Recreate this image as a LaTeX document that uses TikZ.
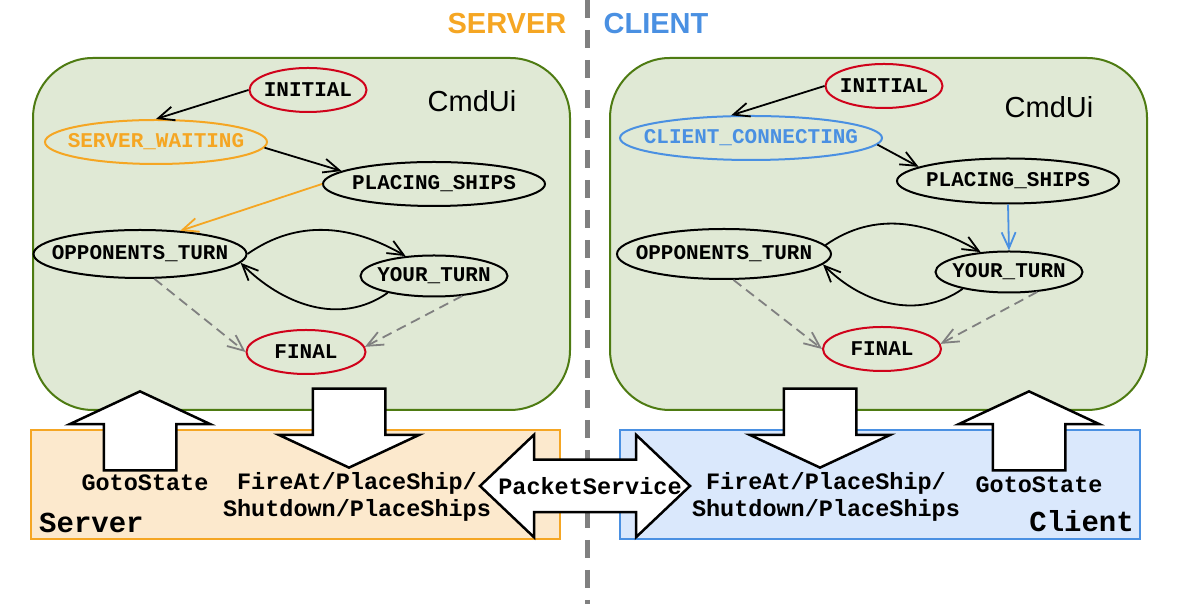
\documentclass[tikz,border=0pt]{standalone}
\usepackage{fontspec}
\setmainfont{Liberation Sans}
\setsansfont{Liberation Sans}
\setmonofont{Liberation Mono}
\usetikzlibrary{shapes.geometric, shapes.arrows, arrows.meta}

\definecolor{uifill}{HTML}{E0E9D5}
\definecolor{uiborder}{HTML}{4E7B12}
\definecolor{servorange}{HTML}{F5A623}
\definecolor{servfill}{HTML}{FCE9CD}
\definecolor{clientblue}{HTML}{4A90E2}
\definecolor{clientfill}{HTML}{DAE8FC}
\definecolor{pseudored}{HTML}{D0021B}
\definecolor{endgrey}{HTML}{808080}

\begin{document}
\begin{tikzpicture}
[
    x=1pt, y=1pt,
    >={Straight Barb[length=16pt, width=14pt]},
    ui/.style={draw=uiborder, fill=uifill, line width=2pt, rounded corners=60pt},
    state/.style={ellipse, draw, line width=2pt, inner xsep=-25pt, inner ysep=0pt, minimum height=44pt, font=\ttfamily\bfseries\fontsize{21}{25}\selectfont},
    pseudo/.style={state, draw=pseudored},
    trans/.style={line width=1.8pt},
    toend/.style={trans, draw=endgrey, dash pattern=on 10pt off 6pt},
    uparrow/.style={single arrow, draw, fill=white, line width=2.5pt, inner xsep=35pt, inner ysep=0pt, minimum height=79pt, minimum width=138pt, single arrow head extend=34pt, single arrow tip angle=130, shape border rotate=90, anchor=tip},
    downarrow/.style={uparrow, shape border rotate=270},
    dblarrow/.style={double arrow, draw, fill=white, line width=2.5pt, inner xsep=0pt, inner ysep=25pt, minimum height=210pt, minimum width=100pt, double arrow head extend=25pt, double arrow tip angle=87},
    call/.style={font=\ttfamily\bfseries\fontsize{23.5}{27}\selectfont, align=center, inner sep=0pt},
    side/.style={font=\ttfamily\bfseries\fontsize{29}{34}\selectfont, inner sep=0pt},
    head/.style={font=\sffamily\bfseries\fontsize{29}{34}\selectfont},
]
    \useasboundingbox (0,0) rectangle (1182,604);

    % server | client
    \draw[draw=endgrey, line width=5pt, dash pattern=on 18pt off 12pt] (587,604) -- (587,0);
    \node[head, text=servorange] (serverhead) at (507,580) {SERVER};
    \node[head, text=clientblue] (clienthead) at (656,580) {CLIENT};

    \draw[ui] (33,194) rectangle (570,546);
    \draw[ui] (610,194) rectangle (1147,546);
    \node[font=\sffamily\fontsize{29}{34}\selectfont] (sui) at (472,503) {CmdUi};
    \node[font=\sffamily\fontsize{29}{34}\selectfont] (cui) at (1049,497) {CmdUi};

    % server states
    \node[pseudo, minimum width=117pt] (sinit) at (308,514) {INITIAL};
    \node[state, draw=servorange, text=servorange, minimum width=222pt] (swait) at (156,462) {SERVER\_WAITING};
    \node[state, minimum width=222pt] (splace) at (434,420) {PLACING\_SHIPS};
    \node[state, minimum width=213pt, minimum height=48pt] (sopp) at (140,350) {OPPONENTS\_TURN};
    \node[state, minimum width=147pt, minimum height=41pt] (syour) at (434,328) {YOUR\_TURN};
    \node[pseudo, minimum width=119pt] (sfinal) at (306,252) {FINAL};

    \draw[->, trans] (sinit.west) -- (swait.north);
    \draw[->, trans] (swait.-3) -- (splace.172);
    \draw[->, trans, draw=servorange] (splace.west) -- (sopp.30);
    \draw[->, trans] (sopp.east) to [out=35,in=150] (syour.145);
    \draw[->, trans] (syour.200) to [out=215,in=-45] (sopp.-5);
    \draw[->, toend] (sopp.-60) -- (sfinal.west);
    \draw[->, toend] (syour.-35) -- (sfinal.5);

    % client states
    \node[pseudo, minimum width=117pt] (cinit) at (884,518) {INITIAL};
    \node[state, draw=clientblue, text=clientblue, minimum width=262pt] (cconn) at (751,466) {CLIENT\_CONNECTING};
    \node[state, minimum width=222pt, minimum height=45pt] (cplace) at (1008,423) {PLACING\_SHIPS};
    \node[state, minimum width=214pt, minimum height=50pt] (copp) at (724,350) {OPPONENTS\_TURN};
    \node[state, minimum width=147pt, minimum height=41pt] (cyour) at (1009,332) {YOUR\_TURN};
    \node[pseudo, minimum width=118pt] (cfinal) at (882,255) {FINAL};

    \draw[->, trans] (cinit.west) -- (cconn.131);
    \draw[->, trans] (cconn.-3) -- (cplace.171);
    \draw[->, trans, draw=clientblue] (cplace.south) -- (cyour.north);
    \draw[->, trans] (copp.5) to [out=35,in=150] (cyour.145);
    \draw[->, trans] (cyour.200) to [out=215,in=-45] (copp.-6);
    \draw[->, toend] (copp.-70) -- (cfinal.west);
    \draw[->, toend] (cyour.-35) -- (cfinal.5);

    % transport layer
    \draw[draw=servorange, fill=servfill, line width=2pt] (31,65) rectangle (560,174);
    \draw[draw=clientblue, fill=clientfill, line width=2pt] (620,65) rectangle (1140,174);

    \node[uparrow] (sgoto) at (140,214) {};
    \node[downarrow] (sfire) at (349,135) {};
    \node[downarrow] (cfire) at (820,135) {};
    \node[uparrow] (cgoto) at (1029,214) {};
    \node[dblarrow] (packet) at (585,118) {};

    \node[call] (sgototext) at (145,121) {GotoState};
    \node[call] (sfiretext) at (357,107.5) {FireAt/PlaceShip/\\Shutdown/PlaceShips};
    \node[call] (packettext) at (590,118) {PacketService};
    \node[call] (cfiretext) at (826,107.5) {FireAt/PlaceShip/\\Shutdown/PlaceShips};
    \node[call] (cgototext) at (1039,119) {GotoState};
    \node[side, anchor=west] (serverlabel) at (39,81) {Server};
    \node[side, anchor=east] (clientlabel) at (1134,83) {Client};
\end{tikzpicture}
\end{document}
